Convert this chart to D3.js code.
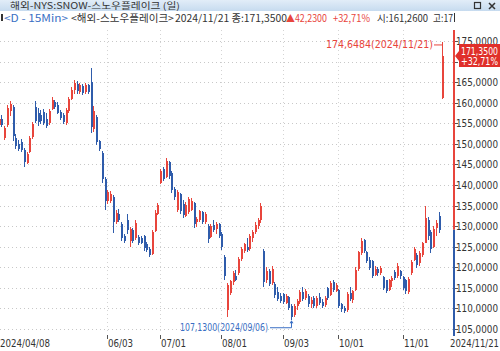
<!DOCTYPE html>
<html>
<head>
<meta charset="utf-8">
<script src="https://cdn.jsdelivr.net/npm/d3@7"></script>
<style>
  body { margin: 0; background: #fff; }
  svg { display: block; }
</style>
</head>
<body>
<div id="chart"></div>
<script>
const width = 500
const height = 351

// trading calendar 2024/04/08 .. 2024/11/21 (NYSE holidays removed)
const startDate = "2024-04-08"
const endDate = "2024-11-21"
const holidays = ["2024-05-27", "2024-06-19", "2024-07-04", "2024-09-02"]

// daily OHLC
const opens = [154.5,156.0,151.5,154.5,158.0,159.0,151.5,150.0,150.5,148.5,145.3,148.0,151.6,159.0,157.5,157.0,157.8,156.0,155.0,158.5,
  160.2,159.5,157.8,157.0,155.0,158.0,161.0,163.0,164.5,162.6,164.0,162.5,164.2,165.0,153.5,156.5,150.6,147.8,141.5,136.0,
  136.2,137.0,131.0,133.0,130.5,127.5,131.5,126.5,129.0,127.0,127.4,127.0,127.5,125.6,124.5,123.2,128.8,133.0,140.5,144.0,
  142.0,145.5,143.0,139.0,134.0,137.8,135.5,132.5,133.5,134.0,135.6,131.0,131.5,133.5,131.0,130.0,127.4,130.2,129.4,130.4,
  128.0,122.5,109.5,113.7,116.5,117.8,118.6,122.0,124.0,125.0,124.5,127.0,128.5,130.0,131.5,124.0,116.8,119.0,116.2,116.0,
  114.0,113.0,113.5,111.4,112.8,110.5,108.5,110.5,111.5,114.0,112.5,113.0,111.0,112.6,110.6,112.8,111.5,110.8,115.0,113.3,
  116.5,114.2,114.5,111.0,110.0,109.5,113.8,112.0,114.5,119.5,123.5,126.6,123.7,121.8,121.5,118.2,119.5,118.5,117.6,116.8,
  114.5,116.6,118.8,117.8,119.0,117.6,116.8,114.0,118.6,121.8,123.0,121.0,123.0,126.0,131.5,128.5,125.0,129.5,132.5,161.26]
const highs = [156.8,157.0,154.3,159.5,160.3,159.4,152.4,151.0,151.2,149.0,148.0,151.8,155.2,160.5,158.6,158.2,158.4,157.6,158.5,161.4,
  160.6,160.2,158.2,157.4,158.8,161.4,163.8,165.5,165.3,164.8,164.6,164.9,164.5,168.4,159.2,157.0,151.0,148.2,142.0,138.8,
  138.6,137.6,134.0,134.2,131.0,128.2,133.0,129.8,129.5,131.5,127.8,127.6,127.9,126.2,125.0,129.0,134.0,135.6,144.0,144.4,
  146.5,145.8,143.4,139.4,138.8,138.0,136.3,135.8,137.0,136.8,135.8,132.2,134.0,133.8,133.5,130.4,130.5,131.5,131.0,130.8,
  128.6,123.0,116.2,117.0,119.0,119.4,122.5,125.0,126.0,127.0,128.0,129.0,131.0,132.0,135.6,124.4,120.0,119.6,120.2,116.4,
  115.2,113.8,113.7,113.6,112.9,111.0,111.0,112.2,114.5,115.2,114.8,113.4,112.8,113.0,113.0,113.7,112.4,113.0,115.2,116.6,
  117.0,116.2,114.8,111.3,110.6,114.0,115.2,114.6,120.0,124.0,127.2,126.8,124.0,122.5,121.8,120.2,120.0,120.4,117.8,117.0,
  117.2,117.8,119.3,121.0,119.3,117.8,117.2,117.6,121.8,125.0,123.4,124.0,126.2,135.0,132.2,129.0,130.0,131.5,133.4,174.6484]
const lows = [153.8,154.0,150.9,154.0,156.8,150.8,148.8,148.2,148.0,144.4,145.0,147.8,151.2,155.0,154.4,154.8,154.6,153.8,154.6,158.2,
  158.4,157.2,155.8,154.8,154.6,157.6,160.6,162.2,162.0,162.2,161.8,162.0,162.0,152.6,153.0,149.8,148.2,140.5,134.0,135.5,
  135.6,128.3,130.4,131.0,126.5,125.8,128.0,125.0,125.8,126.6,125.4,125.6,124.0,123.8,122.5,123.0,128.6,132.8,140.2,141.0,
  141.6,141.5,138.0,136.3,133.5,133.0,132.0,132.2,133.0,133.6,129.5,129.8,131.0,130.4,130.6,126.0,127.0,128.6,128.0,127.0,
  124.2,117.0,107.9,113.2,115.8,116.6,118.2,121.5,123.5,123.8,124.0,126.2,128.0,129.2,130.8,115.2,116.2,115.4,115.8,112.6,
  111.8,111.3,111.0,111.0,109.5,107.13,108.0,109.6,111.0,111.8,112.0,110.3,110.2,110.0,110.0,110.8,110.0,110.4,112.0,113.0,
  114.0,114.0,110.0,109.2,108.9,109.2,111.8,111.3,114.2,119.0,123.0,123.5,121.0,119.3,117.4,117.8,118.0,118.2,114.5,113.7,
  114.2,115.2,117.0,117.4,117.2,114.5,113.5,113.5,118.2,121.5,119.8,120.4,122.5,125.8,126.6,123.5,124.8,127.6,128.3,160.9]
const closes = [156.0,154.5,153.8,158.8,159.6,151.8,149.5,148.7,148.6,145.6,147.6,151.4,154.8,155.6,155.2,155.5,155.0,154.3,158.0,160.7,
  159.0,157.6,156.3,155.3,158.2,160.8,163.2,164.8,162.8,164.3,162.4,164.2,162.6,154.0,158.0,150.5,148.8,141.5,136.0,138.2,
  137.8,131.0,133.2,131.5,127.2,126.3,129.0,129.2,126.4,130.8,126.0,125.9,124.8,124.2,123.0,128.5,133.2,135.1,143.5,141.5,
  145.8,142.3,138.8,137.0,138.2,133.8,132.8,135.2,136.5,136.2,130.6,131.8,133.6,131.0,133.0,126.8,130.0,129.0,130.6,127.6,
  125.0,118.0,115.6,116.6,118.5,116.9,122.0,124.5,125.6,124.2,127.5,128.5,130.2,131.5,134.8,116.5,119.2,116.0,119.5,113.2,
  112.4,111.8,111.5,113.0,110.2,108.0,110.5,111.8,114.0,112.4,114.2,111.0,112.0,110.6,112.5,111.2,110.5,112.6,112.6,116.2,
  114.6,115.8,110.6,109.8,109.3,113.5,112.3,114.2,119.4,123.6,126.5,124.0,121.5,119.8,118.0,119.6,118.6,119.8,115.0,114.2,
  116.8,117.4,117.5,120.4,117.8,115.0,114.2,117.2,121.4,124.4,120.6,123.4,125.8,132.0,127.6,124.5,129.4,130.8,129.12,171.35]

const priceTicks = [105,110,115,120,125,130,135,140,145,150,155,160,165,170,175]
const dateTicks = ["2024-06-03","2024-07-01","2024-08-01","2024-09-03","2024-10-01","2024-11-01"]
const dateTickLabels = ["06/03","07/01","08/01","09/03","10/01","11/01"]

const titleText = "해외-NYS:SNOW-스노우플레이크 (일)"
const lastClose = 171.35, prevClose = 129.12, change = 42.23, changePct = 32.71, lastOpen = 161.26
const hiNote = "174,6484(2024/11/21)"
const loNote = "107,1300(2024/09/06)"

const upColor = "#e8453c"
const downColor = "#2f5cab"
const numFont = "'Liberation Sans Narrow','DejaVu Sans Condensed','Liberation Sans',sans-serif"
const krFont = "'Noto Sans CJK KR','Noto Sans',sans-serif"

const fmt4 = v => v.toFixed(4).replace(".", ",")

// build trading days
const parse = d3.timeParse("%Y-%m-%d")
const fmtKey = d3.timeFormat("%Y-%m-%d")
const dates = d3.timeDay.range(parse(startDate), d3.timeDay.offset(parse(endDate), 1))
  .filter(d => d.getDay() !== 0 && d.getDay() !== 6)
  .map(fmtKey)
  .filter(d => !holidays.includes(d))

const data = dates.map((d, i) => ({ date: d, o: opens[i], h: highs[i], l: lows[i], c: closes[i] }))

const plot = { left: 0, right: 453, top: 30, bottom: 334 }

const x = d3.scaleBand().domain(dates).range([-2.7, 442.9])
const cx = d => Math.round(x(d) + x.bandwidth() / 2)
const y = d3.scaleLinear().domain([105, 175]).range([329, 41])

const svg = d3.select("#chart").append("svg")
  .attr("width", width).attr("height", height)
  .attr("viewBox", [0, 0, width, height])

// title bar
const grad = svg.append("defs").append("linearGradient").attr("id", "tb").attr("x1", 0).attr("x2", 0).attr("y1", 0).attr("y2", 1)
grad.append("stop").attr("offset", "0%").attr("stop-color", "#e2edf8")
grad.append("stop").attr("offset", "100%").attr("stop-color", "#c6dbef")
svg.append("rect").attr("x", 0).attr("y", 0).attr("width", width).attr("height", 11).attr("fill", "url(#tb)")
svg.append("text").attr("x", 10).attr("y", 9)
  .attr("font-family", krFont).attr("font-size", 9).attr("fill", "#333")
  .attr("textLength", 170).attr("lengthAdjust", "spacingAndGlyphs")
  .text(titleText)
svg.append("rect").attr("x", 474.5).attr("y", 2.5).attr("width", 6).attr("height", 6)
  .attr("fill", "none").attr("stroke", "#333").attr("stroke-width", 1.2)
svg.append("path").attr("d", "M489,3L495,9M495,3L489,9").attr("stroke", "#333").attr("stroke-width", 1.5)

// info line
svg.append("rect").attr("x", 1).attr("y", 14).attr("width", 2).attr("height", 7).attr("fill", "#333")
const info = [
  { t: "<D - 15Min>", x: 4, w: 64, c: "#3a6fc4" },
  { t: "<해외-스노우플레이크>", x: 71, w: 103, c: "#333" },
  { t: "2024/11/21 종:" + fmt4(lastClose), x: 175, w: 112, c: "#333" },
  { t: "▲" + fmt4(change), x: 286, w: 41, c: upColor },
  { t: "+" + changePct.toFixed(2).replace(".", ",") + "%", x: 333, w: 37, c: upColor },
  { t: "시:" + fmt4(lastOpen), x: 377, w: 51, c: "#333" },
  { t: "고:17", x: 433, w: 20, c: "#333" }
]
svg.selectAll("text.info").data(info).join("text").attr("class", "info")
  .attr("x", d => d.x).attr("y", 21.5)
  .attr("font-family", krFont).attr("font-size", 10).attr("fill", d => d.c)
  .attr("textLength", d => d.w).attr("lengthAdjust", "spacingAndGlyphs")
  .text(d => d.t)
svg.append("line").attr("x1", 454.5).attr("x2", 454.5).attr("y1", 13).attr("y2", 22).attr("stroke", "#333")

// grid
const g = svg.append("g").attr("shape-rendering", "crispEdges")
g.selectAll("line.hg").data(priceTicks).join("line").attr("class", "hg")
  .attr("x1", 0).attr("x2", plot.right)
  .attr("y1", d => Math.round(y(d)) + 0.5).attr("y2", d => Math.round(y(d)) + 0.5)
  .attr("stroke", "#c8c8c8").attr("stroke-dasharray", "1,3")
g.selectAll("line.vg").data(dateTicks).join("line").attr("class", "vg")
  .attr("x1", d => cx(d) + 0.5).attr("x2", d => cx(d) + 0.5)
  .attr("y1", plot.top).attr("y2", plot.bottom)
  .attr("stroke", "#d4d4d4").attr("stroke-dasharray", "1,3")

// candles
svg.append("clipPath").attr("id", "plotclip").append("rect")
  .attr("x", plot.left).attr("y", plot.top).attr("width", plot.right - plot.left).attr("height", plot.bottom - plot.top)
const candles = svg.append("g").attr("clip-path", "url(#plotclip)").attr("shape-rendering", "crispEdges")
  .selectAll("g").data(data).join("g")
candles.append("line")
  .attr("x1", d => cx(d.date) + 0.5).attr("x2", d => cx(d.date) + 0.5)
  .attr("y1", d => y(d.h)).attr("y2", d => y(d.l))
  .attr("stroke", d => d.c >= d.o ? upColor : downColor)
candles.append("rect")
  .attr("x", d => cx(d.date) - 0.5).attr("width", 2)
  .attr("y", d => y(Math.max(d.o, d.c)))
  .attr("height", d => Math.max(1, Math.abs(y(d.o) - y(d.c))))
  .attr("fill", d => d.c >= d.o ? upColor : downColor)

// high / low notes
const hi = data[d3.maxIndex(data, d => d.h)]
const lo = data[d3.minIndex(data, d => d.l)]
svg.append("text").attr("x", cx(hi.date) - 9).attr("y", y(hi.h) + 6)
  .attr("text-anchor", "end").attr("font-family", numFont).attr("font-size", 11).attr("fill", upColor)
  .attr("textLength", 107).attr("lengthAdjust", "spacingAndGlyphs").text(hiNote)
svg.append("path")
  .attr("d", `M${cx(hi.date) - 8},${y(hi.h) + 2.5}H${cx(hi.date) + 0.5}V${y(hi.h) + 6}`)
  .attr("fill", "none").attr("stroke", upColor)
svg.append("text").attr("x", cx(lo.date) - 23).attr("y", y(lo.l) + 11)
  .attr("text-anchor", "end").attr("font-family", numFont).attr("font-size", 11).attr("fill", "#3a6fc4")
  .attr("textLength", 88).attr("lengthAdjust", "spacingAndGlyphs").text(loNote)
svg.append("path")
  .attr("d", `M${cx(lo.date) - 21},${y(lo.l) + 7.5}H${cx(lo.date) + 0.5}V${y(lo.l) + 1}`)
  .attr("fill", "none").attr("stroke", "#3a6fc4")
svg.append("path")
  .attr("d", `M${cx(lo.date) - 1.5},${y(lo.l) + 3}L${cx(lo.date) + 0.5},${y(lo.l)}L${cx(lo.date) + 2.5},${y(lo.l) + 3}Z`)
  .attr("fill", "#3a6fc4")

// right axis: red above previous close, blue below
svg.append("line").attr("x1", plot.right + 1).attr("x2", plot.right + 1)
  .attr("y1", plot.top).attr("y2", y(prevClose)).attr("stroke", upColor).attr("stroke-width", 2)
svg.append("line").attr("x1", plot.right + 1).attr("x2", plot.right + 1)
  .attr("y1", y(prevClose)).attr("y2", plot.bottom + 2).attr("stroke", downColor).attr("stroke-width", 2)

// last price tag hides the labels it covers
const ty = y(lastClose)
const tagTop = ty - 12, tagBottom = ty + 11
const shownTicks = priceTicks.filter(d => y(d) < tagTop - 3 || y(d) > tagBottom + 3)

const yAxis = svg.append("g")
yAxis.selectAll("line").data(priceTicks).join("line")
  .attr("x1", plot.right + 2).attr("x2", plot.right + 5)
  .attr("y1", d => Math.round(y(d)) + 0.5).attr("y2", d => Math.round(y(d)) + 0.5)
  .attr("stroke", "#555")
yAxis.selectAll("text").data(shownTicks).join("text")
  .attr("x", 456).attr("y", d => y(d) + 4)
  .attr("font-family", numFont).attr("font-size", 11).attr("fill", "#333")
  .attr("textLength", 42).attr("lengthAdjust", "spacingAndGlyphs")
  .text(d => fmt4(d))

svg.append("path")
  .attr("d", `M455,${ty}L459,${ty - 5}V${tagTop}H500V${tagBottom}H459V${ty + 5}Z`)
  .attr("fill", "#e0302a")
svg.append("text").attr("x", 461).attr("y", ty - 1.5).attr("font-family", numFont).attr("font-size", 11)
  .attr("fill", "#fff").attr("textLength", 37).attr("lengthAdjust", "spacingAndGlyphs").text(fmt4(lastClose))
svg.append("text").attr("x", 461).attr("y", ty + 9).attr("font-family", numFont).attr("font-size", 11)
  .attr("fill", "#fff").attr("textLength", 37).attr("lengthAdjust", "spacingAndGlyphs")
  .text("+" + changePct.toFixed(2).replace(".", ",") + "%")

// bottom date axis
const xAxis = svg.append("g").attr("shape-rendering", "crispEdges")
xAxis.selectAll("line").data(dateTicks).join("line")
  .attr("x1", d => cx(d) + 0.5).attr("x2", d => cx(d) + 0.5)
  .attr("y1", 335).attr("y2", 339).attr("stroke", "#555")
xAxis.selectAll("text").data(dateTicks).join("text")
  .attr("x", d => cx(d) + 1).attr("y", 347)
  .attr("font-family", numFont).attr("font-size", 11).attr("fill", "#333")
  .attr("textLength", 25).attr("lengthAdjust", "spacingAndGlyphs")
  .text((d, i) => dateTickLabels[i])
svg.append("text").attr("x", 0).attr("y", 347)
  .attr("font-family", numFont).attr("font-size", 11).attr("fill", "#333")
  .attr("textLength", 50).attr("lengthAdjust", "spacingAndGlyphs")
  .text(dates[0].replace(/-/g, "/"))
svg.append("text").attr("x", 450).attr("y", 347)
  .attr("font-family", numFont).attr("font-size", 11).attr("fill", "#333")
  .attr("textLength", 49).attr("lengthAdjust", "spacingAndGlyphs")
  .text(dates[dates.length - 1].replace(/-/g, "/"))
</script>
</body>
</html>
